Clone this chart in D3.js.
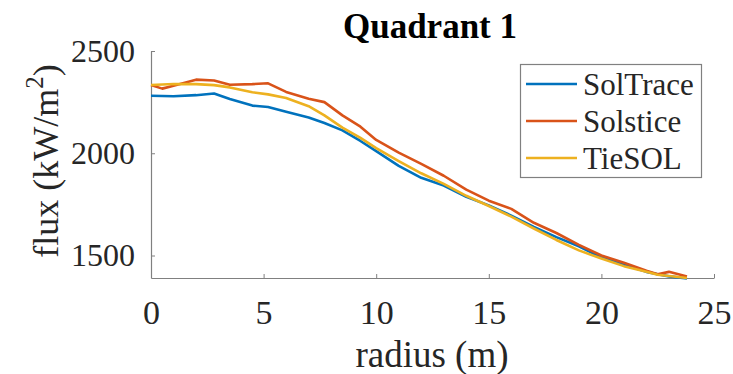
<!DOCTYPE html>
<html>
<head>
<meta charset="utf-8">
<script src="https://cdn.jsdelivr.net/npm/d3@7"></script>
<style>
  body { margin: 0; background: #fff; }
  svg { display: block; }
  svg text { font-family: "Liberation Serif", "Times New Roman", Times, serif; }
</style>
</head>
<body>
<div id="container"></div>
<script>
// values
const radius   = [0, 0.5, 1, 2, 2.8, 3.5, 4.5, 5.2, 6, 7, 7.7, 8.5, 9.3, 10, 11, 12, 13, 14, 15, 16, 17, 18, 19, 20, 21, 22, 22.5, 23, 23.8]
const solTrace = [2281, 2280, 2279, 2284, 2292, 2265, 2233, 2226, 2203, 2175, 2148, 2112, 2060, 2010, 1938, 1880, 1842, 1787, 1745, 1695, 1640, 1590, 1545, 1490, 1455, 1420, 1408, 1398, 1388]
const solstice = [2334, 2316, 2330, 2360, 2356, 2335, 2338, 2342, 2300, 2267, 2250, 2185, 2130, 2065, 2003, 1948, 1890, 1822, 1768, 1728, 1660, 1610, 1552, 1500, 1465, 1425, 1408, 1420, 1397]
const tieSOL   = [2334, 2336, 2339, 2338, 2333, 2322, 2298, 2288, 2270, 2230, 2185, 2125, 2075, 2025, 1962, 1902, 1850, 1792, 1742, 1690, 1632, 1576, 1525, 1485, 1448, 1420, 1406, 1400, 1390]

const seriesNames = ["SolTrace", "Solstice", "TieSOL"]
const seriesColors = ["#0072BD", "#D95319", "#EDB120"]
const xTicks = [0, 5, 10, 15, 20, 25]
const yTicks = [1500, 2000, 2500]

const W = 733, H = 374

let svg = d3.select("#container").append("svg")
    .attr("width", W)
    .attr("height", H)

let x = d3.scaleLinear().domain([0, 25]).range([151, 714])
let y = d3.scaleLinear().domain([1390, 2500]).range([278, 51])

// axes
let xAxis = svg.append("g")
    .attr("transform", `translate(0, ${y.range()[0]})`)
    .call(d3.axisBottom(x).tickValues(xTicks).tickFormat(d3.format("d"))
        .tickSizeInner(-4).tickSizeOuter(0).tickPadding(22))

let yAxis = svg.append("g")
    .attr("transform", `translate(${x.range()[0]}, 0)`)
    .call(d3.axisLeft(y).tickValues(yTicks).tickFormat(d3.format("d"))
        .tickSizeInner(-4).tickSizeOuter(0).tickPadding(16))

;[xAxis, yAxis].forEach(ax => {
    ax.attr("font-family", null)
    ax.select(".domain").attr("stroke", "#808080").attr("stroke-width", 1.2)
    ax.selectAll(".tick line").attr("stroke", "#808080").attr("stroke-width", 1)
    ax.selectAll(".tick text").attr("fill", "#262626")
})
xAxis.attr("font-size", 34)
yAxis.attr("font-size", 32)

// lines
let allSeries = [solTrace, solstice, tieSOL]
let line = d3.line()
    .x((d, i) => x(radius[i]))
    .y(d => y(d))

allSeries.forEach((vals, k) => {
    svg.append("path")
        .datum(vals)
        .attr("d", line)
        .attr("fill", "none")
        .attr("stroke", seriesColors[k])
        .attr("stroke-width", 2.6)
        .attr("stroke-linejoin", "round")
})

// title
svg.append("text")
    .text("Quadrant 1")
    .attr("x", 430)
    .attr("y", 38)
    .attr("text-anchor", "middle")
    .attr("font-weight", "bold")
    .attr("font-size", 35)
    .attr("fill", "#000")

// x label
svg.append("text")
    .text("radius (m)")
    .attr("x", 432)
    .attr("y", 367)
    .attr("text-anchor", "middle")
    .attr("font-size", 37)
    .attr("fill", "#262626")

// y label
let yl = svg.append("text")
    .attr("transform", "translate(58, 161) rotate(-90)")
    .attr("text-anchor", "middle")
    .attr("font-size", 36)
    .attr("fill", "#262626")
yl.append("tspan").text("flux (kW/m")
yl.append("tspan").text("2").attr("font-size", 25).attr("dy", -15)
yl.append("tspan").text(")").attr("dy", 15)

// legend
let leg = svg.append("g")
leg.append("rect")
    .attr("x", 520.5)
    .attr("y", 64.5)
    .attr("width", 181)
    .attr("height", 113)
    .attr("fill", "#fff")
    .attr("stroke", "#808080")
    .attr("stroke-width", 1.2)

seriesNames.forEach((name, k) => {
    let ly = 84 + k * 37
    leg.append("line")
        .attr("x1", 526)
        .attr("x2", 577)
        .attr("y1", ly)
        .attr("y2", ly)
        .attr("stroke", seriesColors[k])
        .attr("stroke-width", 2.6)
    leg.append("text")
        .text(name)
        .attr("x", 583)
        .attr("y", ly + 11)
        .attr("font-size", 31)
        .attr("fill", "#262626")
})
</script>
</body>
</html>
